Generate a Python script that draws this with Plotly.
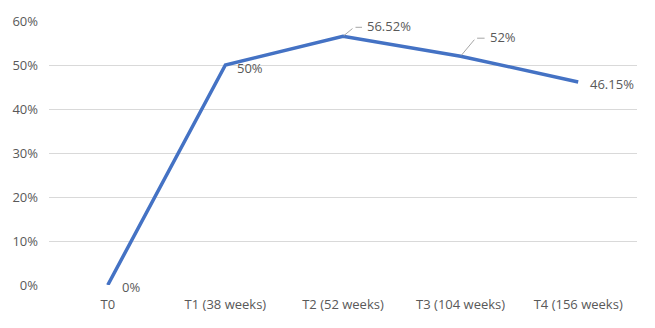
import plotly.graph_objects as go

categories = ["T0", "T1 (38 weeks)", "T2 (52 weeks)", "T3 (104 weeks)", "T4 (156 weeks)"]
values = [0.0, 0.50, 0.5652, 0.52, 0.4615]
labels = ["0%", "50%", "56.52%", "52%", "46.15%"]
tick_vals = [0, 0.1, 0.2, 0.3, 0.4, 0.5, 0.6]
tick_text = ["0%", "10%", "20%", "30%", "40%", "50%", "60%"]

gray = "#595959"
font = dict(family="Open Sans, Liberation Sans, sans-serif", size=13, color=gray)

fig = go.Figure()
fig.add_trace(go.Scatter(
    x=categories, y=values, mode="lines",
    line=dict(color="#4472C4", width=3.5),
    hoverinfo="skip", showlegend=False,
))

# label placement (offset in pixels): (xshift, yshift, leader)
placement = [
    (12, -2, False),
    (10, -3, False),
    (None, None, True),
    (None, None, True),
    (10, -2, False),
]
leaders = {2: (11, 9, 8), 3: (15, 18, 9)}

annotations = []
for i, (c, v, t) in enumerate(zip(categories, values, labels)):
    xs, ys, lead = placement[i]
    if lead:
        dx, dy, hlen = leaders[i]
        annotations.append(dict(x=c, y=v, xref="x", yref="y", text="", showarrow=True,
                                arrowhead=0, arrowwidth=1, arrowcolor="#A6A6A6",
                                ax=dx, ay=-dy, axref="pixel", ayref="pixel", standoff=1))
        annotations.append(dict(x=c, y=v, xref="x", yref="y", text="", showarrow=True,
                                arrowhead=0, arrowwidth=1, arrowcolor="#A6A6A6",
                                xshift=dx + hlen, yshift=dy, ax=-hlen, ay=0,
                                axref="pixel", ayref="pixel"))
        annotations.append(dict(x=c, y=v, xref="x", yref="y", text=t, showarrow=False,
                                xanchor="left", yanchor="middle",
                                xshift=dx + hlen + 3, yshift=dy + 1, font=font))
    else:
        annotations.append(dict(x=c, y=v, xref="x", yref="y", text=t, showarrow=False,
                                xanchor="left", yanchor="middle",
                                xshift=xs, yshift=ys, font=font))

fig.update_layout(
    width=655, height=328,
    margin=dict(l=47, r=18, t=21, b=43),
    paper_bgcolor="white", plot_bgcolor="white",
    font=font,
    xaxis=dict(type="category", range=[-0.5, 4.5], showgrid=False, showline=False,
               zeroline=False, ticks="", tickfont=font, ticklabelstandoff=10,
               fixedrange=True),
    yaxis=dict(range=[0, 0.6], tickvals=tick_vals, ticktext=tick_text,
               showgrid=True, gridcolor="#D9D9D9", gridwidth=1, zeroline=False,
               showline=False, ticks="", tickfont=font, ticklabelstandoff=10,
               fixedrange=True),
    annotations=annotations,
)

fig.write_html("out.html")
